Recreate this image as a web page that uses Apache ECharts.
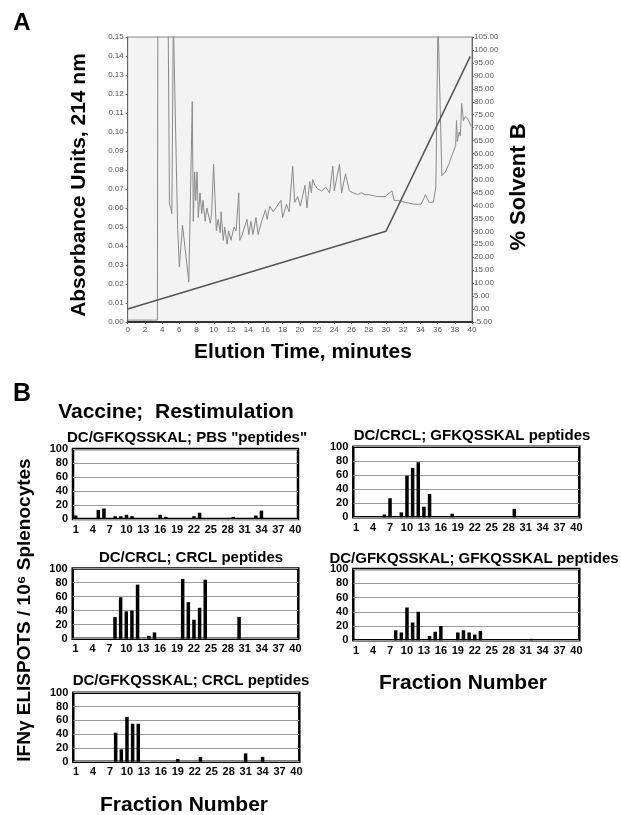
<!DOCTYPE html>
<html>
<head>
<meta charset="utf-8">
<script src="https://cdn.jsdelivr.net/npm/echarts@6.0.0/dist/echarts.min.js"></script>
<style>
  html, body { margin: 0; padding: 0; background: #fff; }
  #main { width: 621px; height: 815px; }
</style>
</head>
<body>
<div id="main"></div>
<script>
// ---- panel A: absorbance trace [minutes, AU] (off-scale points set above 0.15, clipped)
var absorbanceTrace = [
  [0, 0.001], [3.45, 0.001], [3.5, 0.16], [4.7, 0.16], [4.85, 0.062], [5.0, 0.06],
  [5.13, 0.057], [5.3, 0.16], [5.45, 0.16], [5.8, 0.05], [6.0, 0.029], [6.37, 0.051],
  [7.1, 0.021], [7.5, 0.116], [7.62, 0.053], [7.78, 0.079], [7.9, 0.064], [8.06, 0.079],
  [8.2, 0.055], [8.4, 0.068], [8.6, 0.057], [8.75, 0.064], [9.0, 0.053], [9.2, 0.06],
  [9.6, 0.052], [9.75, 0.057], [9.98, 0.083], [10.3, 0.048], [10.5, 0.054], [10.75, 0.047],
  [10.85, 0.058], [11.1, 0.043], [11.27, 0.05], [11.55, 0.041], [11.73, 0.048], [12.0, 0.043],
  [12.35, 0.05], [12.6, 0.048], [12.9, 0.068], [13.03, 0.043], [13.3, 0.046], [13.5, 0.045],
  [13.85, 0.054], [14.08, 0.046], [14.32, 0.053], [14.55, 0.046], [14.9, 0.055], [15.15, 0.046],
  [15.5, 0.052], [16.0, 0.059], [16.2, 0.054], [16.5, 0.061], [16.9, 0.058], [17.2, 0.06],
  [17.8, 0.064], [18.0, 0.055], [18.45, 0.062], [18.75, 0.058], [19.17, 0.082], [19.4, 0.063],
  [19.75, 0.066], [20.05, 0.061], [20.6, 0.072], [20.83, 0.06], [21.15, 0.074], [21.35, 0.068],
  [21.48, 0.075], [21.75, 0.072], [22.08, 0.07], [22.55, 0.069], [23.0, 0.071], [23.45, 0.068],
  [23.83, 0.082], [24.0, 0.069], [24.6, 0.083], [24.85, 0.068], [25.3, 0.078], [25.75, 0.069],
  [26.2, 0.068], [26.7, 0.067], [27.15, 0.068], [27.6, 0.067], [28.06, 0.067], [29.0, 0.066],
  [29.9, 0.066], [30.7, 0.069], [30.95, 0.064], [31.3, 0.064], [32.25, 0.063], [33.2, 0.062],
  [34.1, 0.062], [34.6, 0.067], [35.0, 0.063], [35.5, 0.063], [35.8, 0.071], [36.05, 0.16],
  [36.25, 0.16], [36.5, 0.077], [36.9, 0.079], [37.3, 0.083], [37.7, 0.088], [38.1, 0.093],
  [38.2, 0.106], [38.3, 0.095], [38.5, 0.1], [38.65, 0.098], [38.8, 0.115], [39.0, 0.106],
  [39.2, 0.108], [39.5, 0.107], [39.7, 0.108], [39.9, 0.103]
];
// % solvent B gradient [minutes, %]
var solventB = [[0, 0], [30, 30], [39.8, 97.5]];

// ---- panel B: IFN-gamma ELISPOTS per fraction 1..40
var fractions = ['1','2','3','4','5','6','7','8','9','10','11','12','13','14','15','16','17','18','19','20',
  '21','22','23','24','25','26','27','28','29','30','31','32','33','34','35','36','37','38','39','40'];
var gfkqPbs   = [5,0,0,0,13,15,0,4,4,6, 4,0,0,0,0,6,3,0,0,0, 0,4,9,0,0,0,0,0,3,0, 0,0,5,12,0,0,0,0,0,0];
var crclGfkq  = [0,0,0,0,0,4,27,0,7,59, 70,78,15,33,0,0,0,5,0,0, 0,0,0,0,0,0,0,0,12,0, 0,0,0,0,0,0,0,0,0,0];
var crclCrcl  = [0,0,0,0,0,0,0,31,59,39, 40,77,0,4,9,0,0,0,0,85, 52,27,44,84,0,0,0,0,0,31, 0,0,0,0,0,0,0,0,0,0];
var gfkqGfkq  = [0,0,0,0,0,0,0,14,11,46, 25,40,0,6,12,20,0,0,11,14, 11,8,13,0,0,0,0,0,0,0, 0,2,0,0,0,0,0,0,0,0];
var gfkqCrcl  = [0,0,0,0,0,0,0,42,18,65, 55,55,0,0,0,0,0,0,4,0, 0,0,7,0,0,0,0,0,0,0, 12,0,0,7,0,0,0,0,0,0];

var FONT = '"Liberation Sans", Arial, sans-serif';

var barPanels = [
  { vals: gfkqPbs,  title: 'DC/GFKQSSKAL; PBS "peptides"',     box: [73, 449, 225, 70],      tx: 187, ty: 438 },
  { vals: crclGfkq, title: 'DC/CRCL; GFKQSSKAL peptides',      box: [353.3, 446.7, 226, 70.6], tx: 472, ty: 436 },
  { vals: crclCrcl, title: 'DC/CRCL; CRCL peptides',           box: [72.7, 568.5, 225.6, 70.2], tx: 191, ty: 558 },
  { vals: gfkqGfkq, title: 'DC/GFKQSSKAL; GFKQSSKAL peptides', box: [353.3, 569, 226, 71.3],  tx: 474, ty: 559 },
  { vals: gfkqCrcl, title: 'DC/GFKQSSKAL; CRCL peptides',      box: [73.3, 692.7, 226, 69],   tx: 191, ty: 681 }
];

var chart = echarts.init(document.getElementById('main'), null, { renderer: 'canvas' });

var grids = [{ left: 127.7, top: 37, width: 344.3, height: 285, show: true,
  backgroundColor: '#f3f3f3', borderColor: '#888', borderWidth: 1 }];
var xAxes = [{
  type: 'value', gridIndex: 0, min: 0, max: 40, interval: 2,
  axisLine: { lineStyle: { color: '#333', width: 2 } },
  axisTick: { length: 2, lineStyle: { color: '#555' } },
  axisLabel: { fontSize: 8, color: '#555', margin: 4, fontFamily: FONT },
  splitLine: { show: false }
}];
var yAxes = [{
  type: 'value', gridIndex: 0, min: 0, max: 0.15, interval: 0.01, position: 'left',
  axisLine: { show: true, lineStyle: { color: '#666' } },
  axisTick: { show: true, length: 2, lineStyle: { color: '#666' } },
  axisLabel: { fontSize: 8, color: '#555', margin: 4, fontFamily: FONT,
    formatter: function (v) { return v.toFixed(2); } },
  splitLine: { show: false }
}, {
  type: 'value', gridIndex: 0, min: -5, max: 105, interval: 5, position: 'right',
  axisLine: { show: true, lineStyle: { color: '#666' } },
  axisTick: { show: true, length: 2, lineStyle: { color: '#666' } },
  axisLabel: { fontSize: 8, color: '#555', margin: 2, fontFamily: FONT,
    formatter: function (v) { return v.toFixed(2); } },
  splitLine: { show: false }
}];
var series = [{
  type: 'line', xAxisIndex: 0, yAxisIndex: 0, data: absorbanceTrace, symbol: 'none',
  clip: true, lineStyle: { color: '#8a8a8a', width: 1 }
}, {
  type: 'line', xAxisIndex: 0, yAxisIndex: 1, data: solventB, symbol: 'none',
  clip: true, lineStyle: { color: '#555', width: 1.5 }
}];

var graphics = [];
function txt(s, x, y, size, opts) {
  opts = opts || {};
  graphics.push({
    type: 'text', x: x, y: y, rotation: opts.rot || 0, scaleX: opts.sx || 1,
    style: { text: s, x: 0, y: 0, textAlign: 'center', textVerticalAlign: 'middle',
      font: (opts.weight || 'bold') + ' ' + size + 'px ' + FONT, fill: opts.color || '#000' }
  });
}

barPanels.forEach(function (p, i) {
  var gi = i + 1;
  grids.push({ left: p.box[0], top: p.box[1], width: p.box[2], height: p.box[3],
    show: true, borderColor: '#000', borderWidth: 2.5 });
  xAxes.push({
    type: 'category', gridIndex: gi, data: fractions,
    axisLine: { show: false }, axisTick: { show: false },
    axisLabel: { interval: 2, fontSize: 11, fontWeight: 'bold', color: '#000', margin: 5, fontFamily: FONT }
  });
  yAxes.push({
    type: 'value', gridIndex: gi, min: 0, max: 100, interval: 20,
    axisLine: { show: false }, axisTick: { show: false },
    axisLabel: { fontSize: 11, fontWeight: 'bold', color: '#000', margin: 5, fontFamily: FONT },
    splitLine: { lineStyle: { color: '#999', width: 1 } }
  });
  series.push({
    type: 'bar', xAxisIndex: gi, yAxisIndex: gi + 1, data: p.vals,
    barWidth: 3.5, itemStyle: { color: '#000' }
  });
  txt(p.title, p.tx, p.ty, 15);
});

txt('A', 22, 23, 24);
txt('Absorbance Units, 214 nm', 79, 185, 21, { rot: Math.PI / 2 });
txt('% Solvent B', 519, 187, 22, { rot: Math.PI / 2 });
txt('Elution Time, minutes', 303, 352, 21);
txt('B', 22, 394, 25);
txt('Vaccine;  Restimulation', 176, 412, 21);
txt('IFN\u03b3 ELISPOTS / 10\u2076 Splenocytes', 25, 610, 19, { rot: Math.PI / 2 });
txt('Fraction Number', 184, 805, 21);
txt('Fraction Number', 463, 683, 21);

chart.setOption({
  animation: false,
  backgroundColor: '#fff',
  grid: grids,
  xAxis: xAxes,
  yAxis: yAxes,
  series: series,
  graphic: graphics
});
</script>
</body>
</html>
